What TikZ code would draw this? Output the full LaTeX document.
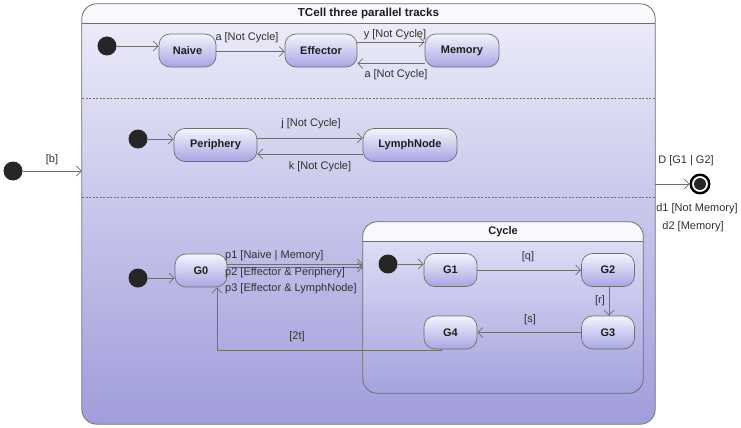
\documentclass[tikz,border=0pt]{standalone}
\usepackage{fontspec}
\setmainfont{Liberation Sans}
\usetikzlibrary{arrows.meta}
\definecolor{bord}{HTML}{6E6E6E}
\definecolor{lavtop}{HTML}{EEEEFA}
\definecolor{lavbot}{HTML}{A09DDB}
\definecolor{ctop}{HTML}{E4E4F8}
\definecolor{cbot}{HTML}{A4A2DE}
\definecolor{ntop}{HTML}{F4F4FD}
\definecolor{nbot}{HTML}{A7A5E4}
\definecolor{ttl}{HTML}{F8F8FD}
\definecolor{dotc}{HTML}{262626}
\definecolor{txt}{HTML}{1E1E1E}
\definecolor{lbl}{HTML}{303030}
\newcommand\stfont{\bfseries\fontsize{11}{13}\selectfont}
\newcommand\ttfontx{\bfseries\fontsize{11.6}{13}\selectfont}
\newcommand\lbfont{\fontsize{11}{12}\selectfont}
\tikzset{
  x=1pt, y=-1pt,
  statebox/.style={draw=bord, line width=0.7pt, rounded corners=11pt, minimum height=33pt,
    top color=ntop, bottom color=nbot, font=\stfont, text=txt, inner sep=0pt},
  initdot/.style={circle, fill=dotc, minimum size=19pt, inner sep=0pt},
  arr/.style={draw=bord, line width=0.7pt, -{Straight Barb[length=5pt,width=10pt]}},
  plain/.style={draw=bord, line width=0.7pt},
  lab/.style={font=\lbfont, text=lbl, inner sep=0pt},
  sep/.style={draw=bord, line width=0.6pt, dash pattern=on 2pt off 1.5pt}
}
\begin{document}
\begin{tikzpicture}
\useasboundingbox (0,0) rectangle (741,428);

% outer composite state
\node[rounded corners=15pt, minimum width=573pt, minimum height=420pt, inner sep=0pt,
      top color=lavtop, bottom color=lavbot] (tcell) at (368.5,214) {};
\begin{scope}
  \clip (82,4) rectangle (655,23);
  \fill[ttl, rounded corners=15pt] (82,4) rectangle (655,424);
\end{scope}
\draw[plain] (82,23) -- (655,23);
\draw[plain, line width=0.8pt, rounded corners=15pt] (tcell.north west) rectangle (tcell.south east);
\node[font=\ttfontx, text=txt] (ttitle) at (368.5,13.5) {TCell three parallel tracks};
\draw[sep] (82,98.5) -- (655,98.5);
\draw[sep] (82,197.5) -- (655,197.5);

% track 1
\node[initdot] (i1) at (107,46) {};
\node[statebox, minimum width=57pt] (naive) at (187.5,50.5) {Naive};
\node[statebox, minimum width=72pt] (eff) at (321,50.5) {Effector};
\node[statebox, minimum width=74pt] (mem) at (462,50.5) {Memory};
\draw[arr] (i1) -- (i1 -| naive.west);
\draw[arr] ([yshift=-1pt]naive.east) -- ([yshift=-1pt]eff.west);
\node[lab] (la1) at (247,38) {a [Not Cycle]};
\draw[arr] ([yshift=8.5pt]eff.east) -- ([yshift=8.5pt]mem.west);
\node[lab] (ly) at (395,34.5) {y [Not Cycle]};
\draw[arr] ([yshift=-13pt]mem.west) -- ([yshift=-13pt]eff.east);
\node[lab] (la2) at (396,75) {a [Not Cycle]};

% track 2
\node[initdot] (i2) at (138,139) {};
\node[statebox, minimum width=83pt] (peri) at (215.5,145) {Periphery};
\node[statebox, minimum width=94pt] (lymph) at (410,145) {LymphNode};
\draw[arr] (i2) -- (i2 -| peri.west);
\draw[arr] ([yshift=7pt]peri.east) -- ([yshift=7pt]peri.east -| lymph.west);
\node[lab] (lj) at (311,124) {j [Not Cycle]};
\draw[arr] ([yshift=-9pt]lymph.west) -- ([yshift=-9pt]lymph.west -| peri.east);
\node[lab] (lk) at (320,167) {k [Not Cycle]};

% track 3
\node[initdot] (i3) at (138,278) {};
\node[statebox, minimum width=52pt] (g0) at (201,270.5) {G0};
\draw[arr] (i3) -- (i3 -| g0.west);

% Cycle composite
\node[rounded corners=14pt, minimum width=280pt, minimum height=171pt, inner sep=0pt,
      top color=ctop, bottom color=cbot] (cyc) at (503,307.5) {};
\begin{scope}
  \clip (363,222) rectangle (643,241);
  \fill[ttl, rounded corners=14pt] (363,222) rectangle (643,393);
\end{scope}
\draw[plain] (363,241) -- (643,241);
\draw[plain, line width=0.8pt, rounded corners=14pt] (cyc.north west) rectangle (cyc.south east);
\node[font=\stfont, text=txt] (ctitle) at (503,231.5) {Cycle};

\draw[arr] ([yshift=6.5pt]g0.east) -- ([yshift=6.5pt]g0.east -| cyc.west);
\draw[arr] ([yshift=3.5pt]g0.east) -- ([yshift=3.5pt]g0.east -| cyc.west);
\node[lab, anchor=west] (lp1) at (225,256) {p1 [Naive | Memory]};
\node[lab, anchor=west] (lp2) at (225,273) {p2 [Effector \& Periphery]};
\node[lab, anchor=west] (lp3) at (225,289) {p3 [Effector \& LymphNode]};

\node[initdot] (i4) at (388,264) {};
\node[statebox, minimum width=53pt] (g1) at (450.5,270) {G1};
\node[statebox, minimum width=53pt] (g2) at (608,270) {G2};
\node[statebox, minimum width=53pt] (g3) at (608,332.5) {G3};
\node[statebox, minimum width=53pt] (g4) at (450.5,332.5) {G4};
\draw[arr] (i4) -- (i4 -| g1.west);
\draw[arr] (g1) -- (g2);
\node[lab] (lq) at (528,257) {[q]};
\draw[arr] ([xshift=1pt]g2.south) -- ([xshift=1pt]g3.north);
\node[lab] (lr) at (600,301) {[r]};
\draw[arr] (g3) -- (g4);
\node[lab] (ls) at (530,320) {[s]};
\draw[arr] ([xshift=-9.5pt]g4.south) -- ++(0,1) -| ([xshift=16pt]g0.south);
\node[lab] (l2t) at (297,337) {[2t]};

% outer entry and exit
\node[initdot] (i0) at (13,171) {};
\draw[arr] (i0) -- (i0 -| tcell.west);
\node[lab] (lb) at (52,160) {[b]};
\node[circle, draw=black, line width=2.4pt, minimum size=18.5pt, inner sep=0pt] (fin) at (700,184) {};
\fill[dotc] (fin.center) circle (6pt);
\draw[arr] (fin -| tcell.east) -- (fin);
\node[lab] (lD) at (686,161) {D [G1 | G2]};
\node[lab] (ld1) at (697,209) {d1 [Not Memory]};
\node[lab] (ld2) at (693,227) {d2 [Memory]};
\end{tikzpicture}
\end{document}
